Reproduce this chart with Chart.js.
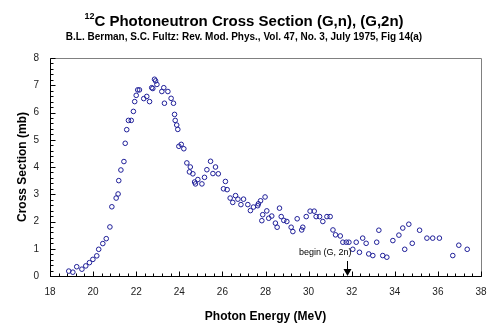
<!DOCTYPE html>
<html>
<head>
<meta charset="utf-8">
<title>12C photoneutron cross section</title>
<script src="https://cdn.jsdelivr.net/npm/chart.js@4/dist/chart.umd.min.js"></script>
<style>
    body { margin: 0; background: #fff; }
    #wrap { width: 500px; height: 334px; position: relative; }
</style>
</head>
<body>
<div id="wrap"><canvas id="chart"></canvas></div>
<script>
'use strict'

// photon energy (MeV) and cross section (mb), Berman & Fultz fig 14(a)
const energy = [
    18.87, 19.06, 19.24, 19.48, 19.66, 19.83, 19.99, 20.17, 20.26, 20.45,
    20.61, 20.78, 20.87, 21.07, 21.16, 21.19, 21.29, 21.43, 21.49, 21.56,
    21.64, 21.77, 21.87, 21.93, 22.00, 22.07, 22.15, 22.35, 22.49, 22.62,
    22.72, 22.77, 22.85, 22.90, 22.96, 23.19, 23.28, 23.31, 23.47, 23.62,
    23.73, 23.78, 23.81, 23.88, 23.93, 23.98, 24.09, 24.21, 24.35, 24.47,
    24.51, 24.63, 24.71, 24.75, 24.86, 25.05, 25.17, 25.28, 25.45, 25.56,
    25.68, 25.81, 26.05, 26.14, 26.22, 26.36, 26.48, 26.61, 26.72, 26.86,
    26.98, 27.18, 27.30, 27.44, 27.64, 27.67, 27.77, 27.83, 27.87, 27.98,
    28.06, 28.15, 28.29, 28.46, 28.54, 28.65, 28.73, 28.85, 28.99, 29.19,
    29.27, 29.47, 29.68, 29.73, 29.89, 30.07, 30.26, 30.35, 30.51, 30.66,
    30.85, 31.00, 31.13, 31.25, 31.47, 31.59, 31.75, 31.87, 32.05, 32.21,
    32.36, 32.51, 32.67, 32.79, 32.98, 33.16, 33.26, 33.44, 33.63, 33.91,
    34.19, 34.37, 34.46, 34.65, 34.81, 35.15, 35.49, 35.76, 36.07, 36.69,
    36.97, 37.36
]

const sigma = [
    0.18, 0.14, 0.34, 0.25, 0.37, 0.49, 0.61, 0.74, 0.98, 1.19,
    1.37, 1.80, 2.54, 2.86, 3.01, 3.50, 3.89, 4.20, 4.87, 5.37,
    5.71, 5.71, 6.04, 6.40, 6.63, 6.83, 6.83, 6.51, 6.59, 6.40,
    6.91, 6.88, 7.22, 7.16, 7.03, 6.77, 6.91, 6.34, 6.77, 6.52,
    6.34, 5.93, 5.71, 5.54, 5.38, 4.76, 4.83, 4.67, 4.15, 3.82,
    4.00, 3.75, 3.45, 3.38, 3.54, 3.38, 3.62, 3.90, 4.21, 3.76,
    4.00, 3.75, 3.20, 3.47, 3.17, 2.86, 2.70, 2.95, 2.82, 2.62,
    2.82, 2.62, 2.40, 2.53, 2.58, 2.65, 2.76, 2.03, 2.25, 2.90,
    2.39, 2.12, 2.20, 1.94, 1.79, 2.49, 2.18, 2.04, 2.00, 1.79,
    1.63, 2.10, 1.69, 1.79, 2.18, 2.38, 2.38, 2.18, 2.18, 2.00,
    2.18, 2.18, 1.69, 1.51, 1.47, 1.24, 1.24, 1.24, 0.98, 1.24,
    0.87, 1.39, 1.20, 0.81, 0.75, 1.24, 1.68, 0.75, 0.69, 1.30,
    1.50, 1.76, 0.98, 1.90, 1.20, 1.68, 1.39, 1.39, 1.39, 0.75,
    1.13, 0.98
]

const energyTicks = [18, 20, 22, 24, 26, 28, 30, 32, 34, 36, 38]
const sigmaTicks = [0, 1, 2, 3, 4, 5, 6, 7, 8]

// (G,2n) threshold marker
const thresholdEnergy = 31.8
const thresholdLabel = 'begin (G, 2n)'

const FONT = '"Liberation Sans", Arial, Helvetica, sans-serif'
Chart.defaults.font.family = FONT

const points = energy.map((e, i) => ({ x: e, y: sigma[i] }))

// frame, inward ticks (with minors), heading and the threshold arrow
const chartDecor = {
    id: 'chartDecor',
    afterDraw(chart) {
        const { ctx, chartArea: a, scales: { x, y } } = chart
        const top = Math.round(a.top) + 0.5
        const right = Math.round(a.right) + 0.5
        const bottom = Math.round(a.bottom) + 0.5
        const left = Math.round(a.left) + 0.5

        ctx.save()
        ctx.lineWidth = 1

        ctx.strokeStyle = '#808080'
        ctx.beginPath()
        ctx.moveTo(left, top)
        ctx.lineTo(right, top)
        ctx.lineTo(right, bottom)
        ctx.stroke()

        ctx.strokeStyle = '#000'
        ctx.beginPath()
        const xStep = (energyTicks[1] - energyTicks[0]) / 5
        const xCount = Math.round((energyTicks[energyTicks.length - 1] - energyTicks[0]) / xStep)
        for (let i = 0; i <= xCount; i++) {
            const px = Math.round(x.getPixelForValue(energyTicks[0] + i * xStep)) + 0.5
            const len = i % 5 === 0 ? 5 : 3
            ctx.moveTo(px, bottom)
            ctx.lineTo(px, bottom - len)
        }
        const yStep = (sigmaTicks[1] - sigmaTicks[0]) / 5
        const yCount = Math.round((sigmaTicks[sigmaTicks.length - 1] - sigmaTicks[0]) / yStep)
        for (let i = 0; i <= yCount; i++) {
            const py = Math.round(y.getPixelForValue(sigmaTicks[0] + i * yStep)) + 0.5
            const len = i % 5 === 0 ? 5 : 3
            ctx.moveTo(left, py)
            ctx.lineTo(left + len, py)
        }
        ctx.stroke()

        // heading with a superscript mass number
        const cx = 244
        ctx.fillStyle = '#000'
        ctx.textBaseline = 'alphabetic'
        ctx.textAlign = 'left'
        const head = 'C Photoneutron Cross Section (G,n), (G,2n)'
        ctx.font = 'bold 9px ' + FONT
        const supW = ctx.measureText('12').width
        ctx.font = 'bold 15px ' + FONT
        const headW = ctx.measureText(head).width
        const hx = cx - (supW + headW) / 2
        ctx.fillText(head, hx + supW, 26)
        ctx.font = 'bold 9px ' + FONT
        ctx.fillText('12', hx, 19)

        ctx.textAlign = 'center'
        ctx.font = 'bold 10px ' + FONT
        ctx.fillText('B.L. Berman, S.C. Fultz: Rev. Mod. Phys., Vol. 47, No. 3, July 1975, Fig 14(a)', cx, 40)

        // threshold arrow
        const ax = Math.round(x.getPixelForValue(thresholdEnergy)) + 0.5
        const tip = y.getPixelForValue(0)
        ctx.beginPath()
        ctx.moveTo(ax, tip - 15)
        ctx.lineTo(ax, tip - 6)
        ctx.stroke()
        ctx.beginPath()
        ctx.moveTo(ax - 4, tip - 7)
        ctx.lineTo(ax + 4, tip - 7)
        ctx.lineTo(ax, tip)
        ctx.closePath()
        ctx.fill()

        ctx.textAlign = 'right'
        ctx.font = '9px ' + FONT
        ctx.fillText(thresholdLabel, ax + 4, tip - 21)
        ctx.restore()
    }
}

new Chart(document.querySelector('#chart').getContext('2d'), {
    type: 'scatter',
    data: {
        datasets: [{
            label: 'Cross section',
            data: points,
            showLine: false,
            pointStyle: 'circle',
            pointRadius: 2.3,
            pointHoverRadius: 2.3,
            borderWidth: 1,
            borderColor: '#1e1e98',
            backgroundColor: 'rgba(0,0,0,0)'
        }]
    },
    options: {
        responsive: true,
        maintainAspectRatio: false,
        animation: false,
        devicePixelRatio: 1,
        layout: { padding: { top: 58, right: 19, bottom: 0, left: 0 } },
        plugins: {
            legend: { display: false },
            title: { display: false },
            tooltip: { enabled: false }
        },
        scales: {
            x: {
                type: 'linear',
                min: energyTicks[0],
                max: energyTicks[energyTicks.length - 1],
                afterBuildTicks: s => { s.ticks = energyTicks.map(v => ({ value: v })) },
                afterFit: s => { s.height = 58 },
                grid: { display: false, drawTicks: false },
                border: { display: true, color: '#000', width: 1 },
                ticks: {
                    autoSkip: false,
                    maxRotation: 0,
                    padding: 10,
                    color: '#222',
                    font: { size: 10 }
                },
                title: {
                    display: true,
                    text: 'Photon Energy (MeV)',
                    color: '#000',
                    font: { size: 12, weight: 'bold' },
                    padding: { top: 0, bottom: 10 }
                }
            },
            y: {
                type: 'linear',
                min: sigmaTicks[0],
                max: sigmaTicks[sigmaTicks.length - 1],
                afterBuildTicks: s => { s.ticks = sigmaTicks.map(v => ({ value: v })) },
                afterFit: s => { s.width = 50 },
                grid: { display: false, drawTicks: false },
                border: { display: true, color: '#000', width: 1 },
                ticks: {
                    padding: 11,
                    color: '#222',
                    font: { size: 10 }
                },
                title: {
                    display: true,
                    text: 'Cross Section (mb)',
                    color: '#000',
                    font: { size: 12, weight: 'bold' },
                    padding: { top: 15, bottom: 0 }
                }
            }
        }
    },
    plugins: [chartDecor]
})
</script>
</body>
</html>
